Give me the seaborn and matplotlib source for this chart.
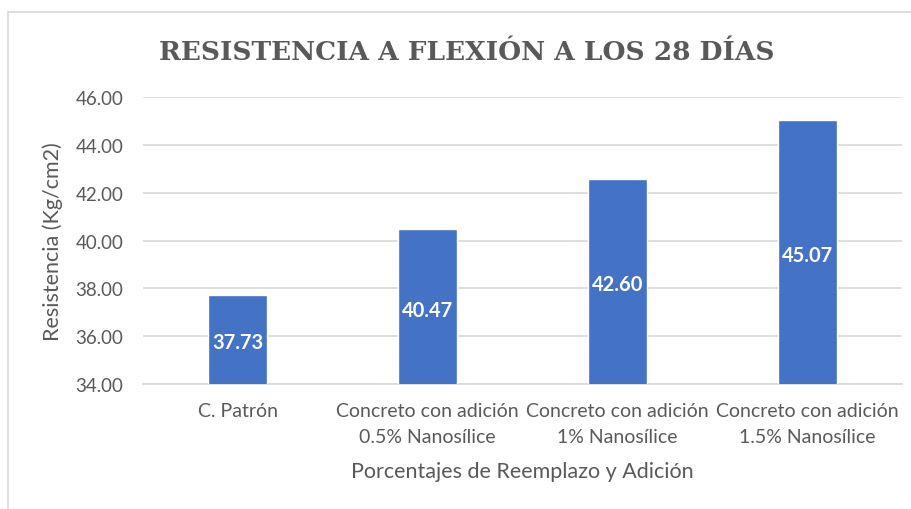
import matplotlib
matplotlib.use("Agg")
import matplotlib.pyplot as plt
import seaborn as sns
import pandas as pd
from matplotlib.lines import Line2D

categories = ["C. Patrón",
              "Concreto con adición\n0.5% Nanosílice",
              "Concreto con adición\n1% Nanosílice",
              "Concreto con adición\n1.5% Nanosílice"]
values = [37.73, 40.47, 42.60, 45.07]
yticks = [34, 36, 38, 40, 42, 44, 46]

sns.set_theme(style="white")
plt.rcParams['font.family'] = ['Lato', 'DejaVu Sans']

df = pd.DataFrame({"cat": categories, "val": values})
fig = plt.figure(figsize=(9.12, 5.10), dpi=100)
ax = fig.add_axes([143/912, 1 - 385/510, 759/912, (385 - 98.3)/510])

sns.barplot(data=df, x="cat", y="val", color="#4472C4", width=0.31,
            saturation=1, ax=ax, zorder=3)
ax.set_ylim(34, 46)
ax.set_xlim(-0.5, 3.5)
ax.set_yticks(yticks)
ax.set_yticklabels([f"{t:.2f}" for t in yticks])
ax.grid(axis="y", color="#D9D9D9", linewidth=1.2, zorder=0)
for s in ["top", "right", "left"]:
    ax.spines[s].set_visible(False)
ax.spines["bottom"].set_color("#D9D9D9")
ax.spines["bottom"].set_linewidth(1.2)
ax.tick_params(axis="y", length=0, colors="#595959", labelsize=13.5, pad=14)
ax.tick_params(axis="x", length=0, colors="#595959", labelsize=14, pad=13)
for lbl in ax.get_xticklabels():
    lbl.set_linespacing(1.65)
ax.set_xlabel("Porcentajes de Reemplazo y Adición", color="#595959", fontsize=15.5)
ax.set_ylabel("Resistencia (Kg/cm2)", color="#595959", fontsize=15.5)
ax.xaxis.set_label_coords(0.5, (385 - 472) / 287)
ax.xaxis.label.set_va("center")
ax.yaxis.set_label_coords((53 - 143) / 759, 0.5)
ax.yaxis.label.set_va("center")

for i, v in enumerate(values):
    ax.text(i, (34 + v) / 2 - 0.12, f"{v:.2f}", ha="center", va="center",
            color="white", fontsize=14.5, fontweight="bold", zorder=4)

fig.text(0.512, 0.897, "RESISTENCIA A FLEXIÓN A LOS 28 DÍAS", ha="center", va="center",
         fontsize=19, fontweight="bold", color="#595959", family="DejaVu Serif")

fig.add_artist(Line2D([8/912, 8/912], [0, 1 - 13/510], color="#D9D9D9", linewidth=1.2))
fig.add_artist(Line2D([8/912, 1], [1 - 13/510, 1 - 13/510], color="#D9D9D9", linewidth=1.2))

fig.savefig("out.png", dpi=100)
